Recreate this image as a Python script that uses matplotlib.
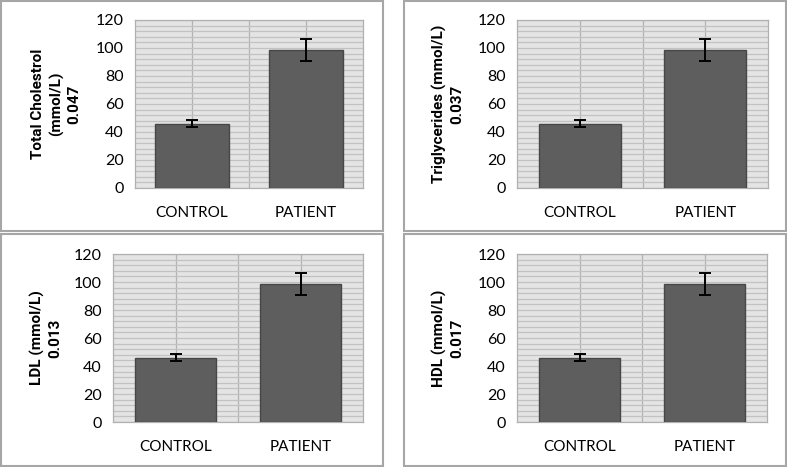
import matplotlib
matplotlib.use("Agg")
import matplotlib.pyplot as plt
from matplotlib.patches import Rectangle
from matplotlib.ticker import MultipleLocator

categories = ["CONTROL", "PATIENT"]
tc_vals = [46.0, 98.8]
tc_err = [2.7, 7.8]
tg_vals = [46.0, 98.8]
tg_err = [2.7, 7.8]
ldl_vals = [46.0, 98.8]
ldl_err = [2.7, 7.8]
hdl_vals = [46.0, 98.8]
hdl_err = [2.7, 7.8]
y_ticks = [0, 20, 40, 60, 80, 100, 120]
labels = ["Total Cholestrol\n(mmol/L)\n0.047", "Triglycerides (mmol/L)\n0.037",
          "LDL (mmol/L)\n0.013", "HDL (mmol/L)\n0.017"]

plt.rcParams['font.family'] = ['Lato', 'DejaVu Sans']

W, H = 787, 467
fig = plt.figure(figsize=(W / 100, H / 100), dpi=100)

# panel frames (pixel coordinates: x0, y0_top, x1, y1_bottom)
panels = [(1, 1, 383, 231), (404, 1, 786, 231), (1, 234, 383, 466), (404, 234, 786, 466)]
for (x0, y0, x1, y1) in panels:
    fig.patches.append(Rectangle((x0 / W, 1 - y1 / H), (x1 - x0) / W, (y1 - y0) / H,
                                 transform=fig.transFigure, fill=False,
                                 edgecolor="#a6a6a6", linewidth=1.5))

# plot areas (x0, top, x1, bottom) in px
areas = [(135, 20, 363, 188), (517, 20, 768, 188), (113, 254, 363, 422), (517, 254, 767, 422)]
data = [(tc_vals, tc_err), (tg_vals, tg_err), (ldl_vals, ldl_err), (hdl_vals, hdl_err)]
label_cx = [56, 448, 46, 448]

for i, ((x0, t, x1, b), (vals, errs), lab) in enumerate(zip(areas, data, labels)):
    ax = fig.add_axes([x0 / W, 1 - b / H, (x1 - x0) / W, (b - t) / H])
    ax.set_facecolor("#e4e4e4")
    xs = list(range(len(categories)))
    ax.bar(xs, vals, width=0.65, color="#5e5e5e", edgecolor="#474747", linewidth=1.0, zorder=3)
    ax.errorbar(xs, vals, yerr=errs, fmt="none", ecolor="black", elinewidth=1.4,
                capsize=4, capthick=1.4, zorder=4)
    ax.set_xlim(-0.5, 1.5)
    ax.set_ylim(0, 120)
    ax.set_yticks(y_ticks)
    ax.set_yticklabels([str(v) for v in y_ticks], fontsize=11.5)
    ax.yaxis.set_minor_locator(MultipleLocator(4))
    ax.set_xticks(xs)
    ax.set_xticklabels(categories, fontsize=11)
    ax.set_xticks([0.5], minor=True)
    ax.grid(True, which="both", axis="y", color="#c2c2c2", linewidth=0.9, zorder=0)
    ax.grid(True, which="both", axis="x", color="#b3b3b3", linewidth=0.9, zorder=0)
    ax.tick_params(which="both", length=0)
    ax.tick_params(axis="x", pad=13)
    ax.tick_params(axis="y", pad=8)
    for s in ax.spines.values():
        s.set_color("#b0b0b0")
        s.set_linewidth(0.9)
    ax.set_axisbelow(True)
    fig.text(label_cx[i] / W, 1 - (t + b) / 2 / H, lab, rotation=90, ha="center", va="center",
             fontsize=11, fontweight="bold", family=["Roboto", "DejaVu Sans"],
             linespacing=1.3, multialignment="center")

fig.savefig("out.png", dpi=100)
